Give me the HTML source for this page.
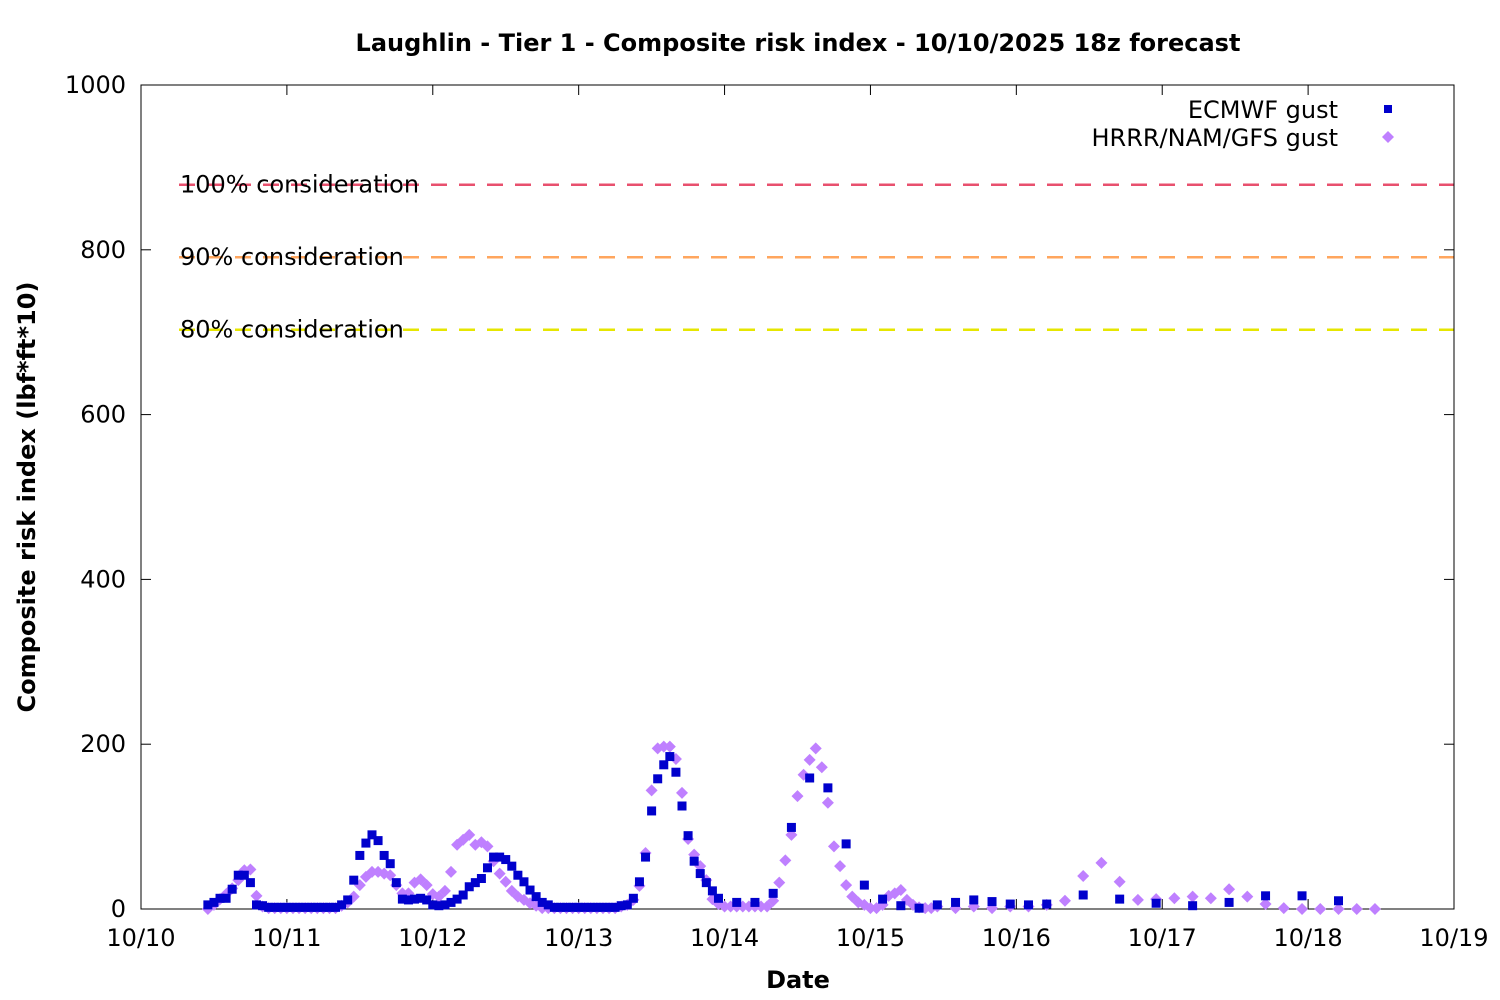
<!DOCTYPE html>
<html><head><meta charset="utf-8"><style>
html,body{margin:0;padding:0;background:#fff}
svg{display:block;font-family:"Liberation Sans","DejaVu Sans",sans-serif}
</style></head><body>
<svg id="chart" width="1500" height="1000" viewBox="0 0 1500 1000" xmlns="http://www.w3.org/2000/svg">
<rect width="1500" height="1000" fill="#fff"/>
<text x="798" y="51" text-anchor="middle" font-size="24" font-weight="bold" font-family="DejaVu Sans, sans-serif">Laughlin - Tier 1 - Composite risk index - 10/10/2025 18z forecast</text>
<text transform="translate(35,497) rotate(-90)" text-anchor="middle" font-size="24" font-weight="bold" font-family="DejaVu Sans, sans-serif">Composite risk index (lbf*ft*10)</text>
<text x="798" y="988" text-anchor="middle" font-size="24" font-weight="bold" font-family="DejaVu Sans, sans-serif">Date</text>
<g id="axes"></g>
<g id="marks"></g>
<g>
<text x="1338" y="118" text-anchor="end" font-size="24" font-family="DejaVu Sans, sans-serif">ECMWF gust</text>
<rect x="1384" y="105" width="8" height="8" fill="#0000cc"/>
<text x="1338" y="146" text-anchor="end" font-size="24" font-family="DejaVu Sans, sans-serif">HRRR/NAM/GFS gust</text>
<polygon points="1388,131 1394,137 1388,143 1382,137" fill="#bf80ff"/>
</g>
</svg>
<script>
const dayLabels = ["10/10","10/11","10/12","10/13","10/14","10/15","10/16","10/17","10/18","10/19"];
const yTicks = [0,200,400,600,800,1000];
const thresholdValues = [879, 791, 703];
const thresholdLabels = ["100% consideration","90% consideration","80% consideration"];
const thresholdColors = ["#e8506e","#ffa65e","#e6e600"];
// ECMWF: hourly from hour 11, then 3-hourly, then 6-hourly
const ecmwfHourlyStart = 11;
const ecmwfHourly = [5,8,13,13,24,41,41,32,5,4,
 2,2,2,2,2,2,2,2,2,2,2,2,
 5,11,35,65,80,90,83,65,55,32,12,11,12,13,11,5,4,5,8,12,17,27,32,37,50,63,63,60,52,41,33,23,15,8,5,
 2,2,2,2,2,2,2,2,2,2,2,
 4,5,13,33,63,119,158,175,185,166,125,89,58,43,32,22,13];
const ecmwf3hStart = 98;
const ecmwf3h = [8,8,19,99,159,147,79,29,12,4,1,5,8,11,9,6,5,6];
const ecmwf6hStart = 155;
const ecmwf6h = [17,12,7,4,8,16,16,10];
// HRRR/NAM/GFS: hourly from hour 11, then 3-hourly
const hrrrHourlyStart = 11;
const hrrrHourly = [0,5,12,18,25,35,47,48,16,3,
 1,1,1,1,1,1,1,1,1,1,1,1,
 4,8,15,29,39,45,45,43,41,29,19,19,32,36,29,18,15,22,45,78,84,90,78,81,76,58,43,33,22,15,11,7,4,
 1,1,1,1,1,1,1,1,1,1,1,1,1,
 3,5,11,28,68,144,195,197,197,182,141,85,66,52,35,12,6,
 3,3,3,3,3,3,3,3,
 10,32,59,90,137,163,181,195,172,129,76,52,29,15,8,5,1,1,5,16,19,23,11,5,2,1,1,3];
const hrrr3hStart = 134;
const hrrr3h = [1,3,1,3,3,5,10,40,56,33,11,12,13,15,13,24,15,6,1,0,0,0,0,0];

const X0=141,X1=1454,Y0=909,Y1=85;
const xScale = h => X0 + h*(X1-X0)/216;
const yScale = v => Y0 - v*(Y0-Y1)/1000;
const NS="http://www.w3.org/2000/svg";
function mk(tag, attrs, parent){const e=document.createElementNS(NS,tag);for(const k in attrs)e.setAttribute(k,attrs[k]);parent.appendChild(e);return e;}
const axes=document.getElementById('axes'), marks=document.getElementById('marks');

thresholdValues.forEach((v,i)=>{
  const y=yScale(v);
  const l=mk('line',{x1:X0+38,x2:X1,y1:y,y2:y,stroke:thresholdColors[i],'stroke-width':2.5,'stroke-dasharray':'16,12'},axes);
  
  
  const t=mk('text',{x:180,y:y+8,'font-size':24,'font-family':'DejaVu Sans, sans-serif'},axes);
  t.textContent=thresholdLabels[i];
  
  
});
const fr=mk('rect',{x:X0,y:Y1,width:X1-X0,height:Y0-Y1,fill:'none',stroke:'#000','stroke-width':1},axes);


yTicks.forEach(v=>{
  const y=yScale(v);
  mk('line',{x1:X0,x2:X0+10,y1:y,y2:y,stroke:'#000'},axes);
  mk('line',{x1:X1,x2:X1-10,y1:y,y2:y,stroke:'#000'},axes);
  const t=mk('text',{x:X0-15,y:y+8,'text-anchor':'end','font-size':24,'font-family':'DejaVu Sans, sans-serif'},axes);
  t.textContent=v;
  
  
});
dayLabels.forEach((d,i)=>{
  const x=xScale(i*24);
  mk('line',{x1:x,x2:x,y1:Y0,y2:Y0-10,stroke:'#000'},axes);
  mk('line',{x1:x,x2:x,y1:Y1,y2:Y1+10,stroke:'#000'},axes);
  const t=mk('text',{x:x,y:946,'text-anchor':'middle','font-size':24,'font-family':'DejaVu Sans, sans-serif'},axes);
  t.textContent=d;
  
  
});

function sq(h,v){const x=xScale(h),y=yScale(v);
  const r=mk('rect',{x:x-4.5,y:y-4.5,width:9,height:9,fill:'#0000cc'},marks);
  
  }
function dm(h,v){const x=xScale(h),y=yScale(v);
  const p=mk('polygon',{points:`${x},${y-6} ${x+6},${y} ${x},${y+6} ${x-6},${y}`,fill:'#bf80ff'},marks);
  
  }
hrrrHourly.forEach((v,i)=>dm(hrrrHourlyStart+i,v));
hrrr3h.forEach((v,i)=>dm(hrrr3hStart+3*i,v));
ecmwfHourly.forEach((v,i)=>sq(ecmwfHourlyStart+i,v));
ecmwf3h.forEach((v,i)=>sq(ecmwf3hStart+3*i,v));
ecmwf6h.forEach((v,i)=>sq(ecmwf6hStart+6*i,v));
</script>
</body></html>
